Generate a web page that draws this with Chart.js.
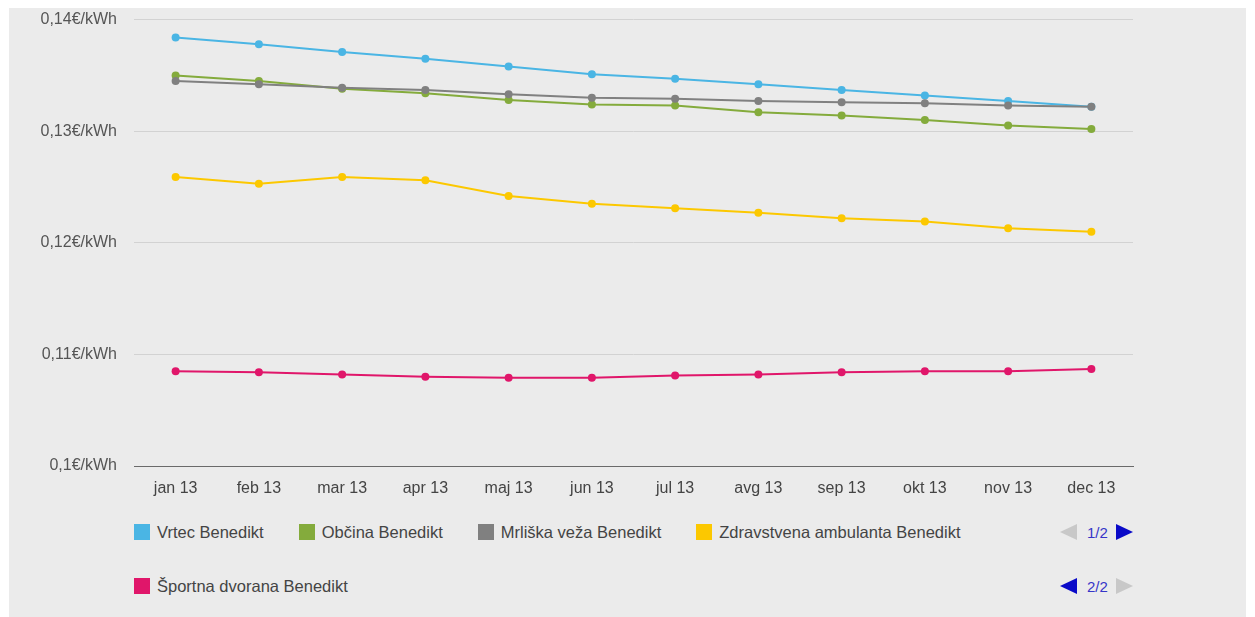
<!DOCTYPE html>
<html>
<head>
<meta charset="utf-8">
<script src="https://cdn.jsdelivr.net/npm/chart.js@4/dist/chart.umd.min.js"></script>
<style>
  body { margin: 0; background: #fff; font-family: Arial, "Liberation Sans", sans-serif; }
  #panel { position: absolute; left: 9px; top: 8px; width: 1237px; height: 609px; background: #ebebeb; }
  #priceChart { position: absolute; left: 0; top: -15px; }
  .legend-row { position: absolute; left: 125px; display: flex; align-items: center; gap: 35px; height: 20px; }
  .legend-item { display: flex; align-items: center; font-size: 16.5px; color: #444; white-space: nowrap; }
  .legend-box { width: 16px; height: 16px; margin-right: 7px; }
  .pager { position: absolute; left: 1051px; display: flex; align-items: center; height: 20px; font-size: 15px; color: #3636c8; }
  .arrow-left { width: 0; height: 0; border-top: 8px solid transparent; border-bottom: 8px solid transparent; border-right: 17px solid #0a0ac8; }
  .arrow-right { width: 0; height: 0; border-top: 8px solid transparent; border-bottom: 8px solid transparent; border-left: 17px solid #0a0ac8; }
  .off.arrow-left { border-right-color: #c8c8c8; }
  .off.arrow-right { border-left-color: #c8c8c8; }
  .pager span { margin: 0 8px 0 10px; }
</style>
</head>
<body>
<div id="panel">
  <canvas id="priceChart" width="1237" height="515"></canvas>
  <div class="legend-row" id="legendRow1" style="top: 514px;"></div>
  <div class="pager" style="top: 514px;"><div class="arrow-left off"></div><span>1/2</span><div class="arrow-right"></div></div>
  <div class="legend-row" id="legendRow2" style="top: 568px;"></div>
  <div class="pager" style="top: 568px;"><div class="arrow-left"></div><span>2/2</span><div class="arrow-right off"></div></div>
</div>
<script>
// Monthly electricity price per building, 2013
const months = ['jan 13', 'feb 13', 'mar 13', 'apr 13', 'maj 13', 'jun 13', 'jul 13', 'avg 13', 'sep 13', 'okt 13', 'nov 13', 'dec 13'];

const vrtec = [0.1384, 0.1378, 0.1371, 0.1365, 0.1358, 0.1351, 0.1347, 0.1342, 0.1337, 0.1332, 0.1327, 0.1322];
const obcina = [0.1350, 0.1345, 0.1338, 0.1334, 0.1328, 0.1324, 0.1323, 0.1317, 0.1314, 0.1310, 0.1305, 0.1302];
const mrliskaVeza = [0.1345, 0.1342, 0.1339, 0.1337, 0.1333, 0.1330, 0.1329, 0.1327, 0.1326, 0.1325, 0.1323, 0.1322];
const ambulanta = [0.1259, 0.1253, 0.1259, 0.1256, 0.1242, 0.1235, 0.1231, 0.1227, 0.1222, 0.1219, 0.1213, 0.1210];
const dvorana = [0.1085, 0.1084, 0.1082, 0.1080, 0.1079, 0.1079, 0.1081, 0.1082, 0.1084, 0.1085, 0.1085, 0.1087];

const yMin = 0.10;
const yMax = 0.14;
const yStep = 0.01;

const series = [
    { label: 'Vrtec Benedikt', data: vrtec, color: '#4ab5e4' },
    { label: 'Občina Benedikt', data: obcina, color: '#84ab3c' },
    { label: 'Mrliška veža Benedikt', data: mrliskaVeza, color: '#808080' },
    { label: 'Zdravstvena ambulanta Benedikt', data: ambulanta, color: '#fcc800' },
    { label: 'Športna dvorana Benedikt', data: dvorana, color: '#e0166a' }
];

const font = { family: 'Arial, "Liberation Sans", sans-serif', size: 16 };

const ctx = document.getElementById('priceChart').getContext('2d');
const priceChart = new Chart(ctx, {
    type: 'line',
    data: {
        labels: months,
        datasets: series.map((s, i) => ({
            label: s.label,
            data: s.data,
            borderColor: s.color,
            backgroundColor: s.color,
            pointBackgroundColor: s.color,
            pointBorderColor: s.color,
            pointRadius: 4,
            pointBorderWidth: 0,
            borderWidth: 2,
            tension: 0,
            fill: false,
            order: series.length - i // later series drawn on top
        }))
    },
    options: {
        responsive: false,
        animation: false,
        layout: { padding: { left: 0, right: 113, top: 11, bottom: 0 } },
        plugins: {
            legend: { display: false },
            tooltip: { enabled: false }
        },
        scales: {
            x: {
                offset: true,
                grid: { display: false, drawTicks: false },
                border: { display: true, color: '#6a6a6a', width: 1 },
                ticks: { color: '#444', font: font, padding: 13, maxRotation: 0 },
                afterFit: (scale) => { scale.height = 42; }
            },
            y: {
                min: yMin,
                max: yMax,
                grid: {
                    drawTicks: false,
                    color: (c) => (c.tick && Math.abs(c.tick.value - yMin) < 1e-9) ? 'rgba(0,0,0,0)' : '#d2d2d2'
                },
                border: { display: false },
                ticks: {
                    stepSize: yStep,
                    padding: 17,
                    color: '#555',
                    font: font,
                    callback: (v) => Number(v.toFixed(2)).toString().replace('.', ',') + '€/kWh'
                },
                afterFit: (scale) => { scale.width = 125; }
            }
        }
    }
});

// Legend rows, built from the datasets
function legendItem(ds) {
    const item = document.createElement('div');
    item.className = 'legend-item';
    const box = document.createElement('div');
    box.className = 'legend-box';
    box.style.background = ds.borderColor;
    item.appendChild(box);
    item.appendChild(document.createTextNode(ds.label));
    return item;
}

const row1 = document.getElementById('legendRow1');
const row2 = document.getElementById('legendRow2');
priceChart.data.datasets.forEach((ds, i) => {
    (i < 4 ? row1 : row2).appendChild(legendItem(ds));
});
</script>
</body>
</html>
